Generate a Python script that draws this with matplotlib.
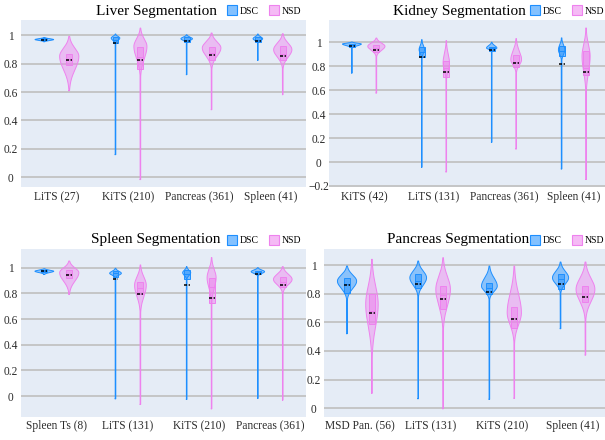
import numpy as np
import matplotlib.pyplot as plt
from matplotlib.lines import Line2D
from matplotlib.patches import Rectangle
from matplotlib.colors import to_rgba

plt.rcParams['font.family'] = ['Liberation Serif', 'DejaVu Serif']

# categories on each panel
liver_cats = ['LiTS (27)', 'KiTS (210)', 'Pancreas (361)', 'Spleen (41)']
kidney_cats = ['KiTS (42)', 'LiTS (131)', 'Pancreas (361)', 'Spleen (41)']
spleen_cats = ['Spleen Ts (8)', 'LiTS (131)', 'KiTS (210)', 'Pancreas (361)']
pancreas_cats = ['MSD Pan. (56)', 'LiTS (131)', 'KiTS (210)', 'Spleen (41)']

# per violin: min, q1, median, q3, max, mean, mode, lower end of bulk, relative peak density
liver_dsc = [
    (0.955, 0.965, 0.972, 0.978, 0.985, 0.970, 0.970, 0.955, 0.97),
    (0.159, 0.945, 0.965, 0.985, 1.009, 0.946, 0.981, 0.939, 0.45),
    (0.723, 0.955, 0.970, 0.985, 1.004, 0.962, 0.976, 0.946, 0.60),
    (0.824, 0.950, 0.970, 0.985, 1.009, 0.958, 0.976, 0.946, 0.50),
]
liver_nsd = [
    (0.610, 0.790, 0.830, 0.870, 0.993, 0.828, 0.852, 0.620, 1.00),
    (-0.017, 0.765, 0.850, 0.915, 1.051, 0.828, 0.922, 0.710, 0.68),
    (0.476, 0.828, 0.875, 0.918, 1.016, 0.863, 0.911, 0.770, 0.97),
    (0.582, 0.828, 0.870, 0.925, 1.011, 0.852, 0.899, 0.770, 0.95),
]
kidney_dsc = [
    (0.745, 0.960, 0.980, 0.990, 1.004, 0.968, 0.987, 0.954, 1.00),
    (-0.043, 0.876, 0.920, 0.960, 1.023, 0.876, 0.940, 0.865, 0.29),
    (0.166, 0.930, 0.950, 0.965, 1.002, 0.935, 0.954, 0.926, 0.55),
    (-0.057, 0.885, 0.930, 0.968, 1.038, 0.823, 0.940, 0.843, 0.34),
]
kidney_nsd = [
    (0.578, 0.918, 0.950, 0.982, 1.037, 0.937, 0.968, 0.885, 0.91),
    (-0.082, 0.709, 0.790, 0.848, 1.015, 0.753, 0.829, 0.676, 0.34),
    (0.110, 0.793, 0.840, 0.893, 1.032, 0.829, 0.856, 0.745, 0.57),
    (-0.146, 0.726, 0.790, 0.926, 1.121, 0.753, 0.885, 0.564, 0.43),
]
spleen_dsc = [
    (0.948, 0.965, 0.972, 0.978, 0.992, 0.972, 0.972, 0.948, 0.98),
    (-0.021, 0.930, 0.955, 0.975, 0.995, 0.909, 0.956, 0.922, 0.61),
    (-0.026, 0.914, 0.950, 0.982, 1.008, 0.863, 0.961, 0.909, 0.42),
    (-0.018, 0.950, 0.963, 0.975, 1.000, 0.948, 0.969, 0.935, 0.70),
]
spleen_nsd = [
    (0.793, 0.922, 0.950, 0.982, 1.052, 0.943, 0.961, 0.800, 1.00),
    (-0.065, 0.793, 0.840, 0.889, 1.021, 0.793, 0.863, 0.649, 0.61),
    (-0.099, 0.727, 0.850, 0.922, 1.078, 0.766, 0.922, 0.727, 0.47),
    (-0.031, 0.852, 0.890, 0.930, 1.008, 0.863, 0.909, 0.805, 0.97),
]
pancreas_dsc = [
    (0.521, 0.807, 0.870, 0.911, 0.993, 0.860, 0.888, 0.761, 1.00),
    (0.067, 0.842, 0.890, 0.935, 1.028, 0.865, 0.911, 0.784, 0.87),
    (0.063, 0.796, 0.840, 0.872, 0.993, 0.814, 0.853, 0.761, 0.82),
    (0.556, 0.830, 0.900, 0.935, 1.021, 0.865, 0.911, 0.807, 0.84),
]
pancreas_nsd = [
    (0.105, 0.586, 0.680, 0.796, 1.040, 0.663, 0.726, 0.350, 0.65),
    (-0.003, 0.691, 0.790, 0.853, 1.051, 0.761, 0.830, 0.551, 0.76),
    (0.070, 0.562, 0.630, 0.709, 0.993, 0.621, 0.667, 0.458, 0.74),
    (0.372, 0.742, 0.800, 0.853, 1.021, 0.779, 0.830, 0.621, 0.98),
]

c_dsc = '#1E8FFF'
c_nsd = '#EE82EE'
bg = '#E5ECF6'

HALF_W = 0.135
TAIL_W = 0.004
BOX_W = 0.042
OFF = 0.175


def draw_violin(ax, xc, row, color):
    lo, q1, med, q3, hi, mean, mode, blo, dens = row
    y = np.linspace(lo, hi, 400)
    su = max(hi - mode, 0.004) / 2.5
    sd = max(mode - blo, 0.004) / 2.5
    s = np.where(y >= mode, su, sd)
    w = HALF_W * dens * np.exp(-0.5 * ((y - mode) / s) ** 2)
    w = np.maximum(w, TAIL_W)
    ax.fill_betweenx(y, xc - w, xc + w, facecolor=to_rgba(color, 0.45), lw=0, zorder=2)
    xs = np.concatenate([xc - w, (xc + w)[::-1], [xc - w[0]]])
    ys = np.concatenate([y, y[::-1], [y[0]]])
    ax.plot(xs, ys, color=color, lw=0.7, zorder=3)
    ax.add_patch(Rectangle((xc - BOX_W, q1), 2 * BOX_W, q3 - q1,
                           facecolor=to_rgba(color, 0.5), edgecolor=color, lw=0.7, zorder=4))
    ax.plot([xc - BOX_W, xc + BOX_W], [med, med], color=color, lw=0.7, zorder=5)
    ax.plot([xc - BOX_W, xc + BOX_W], [mean, mean], color='black', lw=1.1,
            ls=(0, (2, 1)), zorder=6)


W, H = 605, 440
fig = plt.figure(figsize=(6.05, 4.4), dpi=100)

panels = [
    ('Liver Segmentation', liver_cats, liver_dsc, liver_nsd,
     [21.2, 20, 305.9, 187.5], (-0.073, 1.108), np.arange(0, 1.01, 0.2), (156, 11)),
    ('Kidney Segmentation', kidney_cats, kidney_dsc, kidney_nsd,
     [329.2, 20, 608.8, 187.5], (-0.213, 1.188), np.arange(-0.2, 1.01, 0.2), (459, 11)),
    ('Spleen Segmentation', spleen_cats, spleen_dsc, spleen_nsd,
     [21.2, 249.3, 305.9, 416.7], (-0.161, 1.143), np.arange(0, 1.01, 0.2), (156, 240)),
    ('Pancreas Segmentation', pancreas_cats, pancreas_dsc, pancreas_nsd,
     [323.9, 249.3, 608.6, 416.7], (-0.059, 1.110), np.arange(0, 1.01, 0.2), (458.5, 240)),
]

for title, cats, dsc, nsd, box, ylim, yt, tpos in panels:
    x0, y0, x1, y1 = box
    ax = fig.add_axes([x0 / W, 1 - y1 / H, (x1 - x0) / W, (y1 - y0) / H])
    ax.set_facecolor(bg)
    for s in ax.spines.values():
        s.set_visible(False)
    for i in range(len(cats)):
        draw_violin(ax, i - OFF, dsc[i], c_dsc)
        draw_violin(ax, i + OFF, nsd[i], c_nsd)
    ax.set_xlim(-0.5, len(cats) - 0.5)
    ax.set_ylim(*ylim)
    ax.set_xticks(range(len(cats)))
    ax.set_xticklabels(cats)
    yt = np.round(yt, 1)
    ax.set_yticks(yt)
    ax.set_yticklabels([f'{t:g}'.replace('-', '\u2212') for t in yt])
    for lab in ax.get_yticklabels():
        lab.set_horizontalalignment('center')
    ax.tick_params(axis='both', length=0, labelsize=8.3, colors='#2b2b2b')
    ax.tick_params(axis='y', pad=7.5)
    ax.tick_params(axis='x', pad=2.5)
    ax.yaxis.grid(True, color='#c2c2c2', lw=1.3)
    ax.set_axisbelow(True)

    handles = [Line2D([], [], marker='s', ls='none', markersize=6.5,
                      markerfacecolor=to_rgba(c, 0.55), markeredgecolor=c, markeredgewidth=0.8)
               for c in (c_dsc, c_nsd)]
    ax.legend(handles, ['DSC', 'NSD'], loc='lower right', bbox_to_anchor=(1.0, 1.0), ncol=2,
              frameon=False, fontsize=7, handletextpad=0.3, columnspacing=1.1,
              borderaxespad=0.25, borderpad=0.2, handlelength=1.0)

    fig.text(tpos[0] / W, 1 - tpos[1] / H, title, ha='center', va='center', fontsize=11)

fig.savefig('out.png', dpi=100)
